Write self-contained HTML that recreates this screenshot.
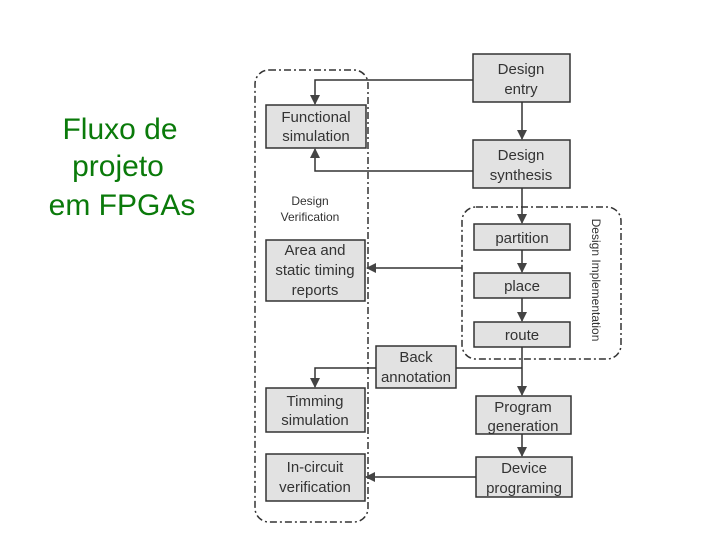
<!DOCTYPE html>
<html><head><meta charset="utf-8"><style>
html,body{margin:0;padding:0;background:#fff;}
svg{display:block;}
</style></head><body>
<svg width="720" height="540" viewBox="0 0 720 540" xmlns="http://www.w3.org/2000/svg" font-family="Liberation Sans, sans-serif">
<defs>
<marker id="a" markerWidth="10" markerHeight="10" refX="9" refY="5" orient="auto" markerUnits="userSpaceOnUse">
<path d="M0,0 L10,5 L0,10 z" fill="#444"/></marker>
</defs>
<rect width="720" height="540" fill="#fff"/>
<g fill="#0a7a0a" font-size="30" text-anchor="middle">
<text x="120" y="139">Fluxo de</text>
<text x="118" y="176">projeto</text>
<text x="122" y="215">em FPGAs</text>
</g>
<g fill="none" stroke="#333" stroke-width="1.5" stroke-dasharray="7,3,2,3">
<rect x="255" y="70" width="113" height="452" rx="14"/>
<rect x="462" y="207" width="159" height="152" rx="14"/>
</g>
<g fill="#e2e2e2" stroke="#333" stroke-width="1.5">
<rect x="473" y="54" width="97" height="48"/>
<rect x="473" y="140" width="97" height="48"/>
<rect x="266" y="105" width="100" height="43"/>
<rect x="266" y="240" width="99" height="61"/>
<rect x="474" y="224" width="96" height="26"/>
<rect x="474" y="273" width="96" height="25"/>
<rect x="474" y="322" width="96" height="25"/>
<rect x="376" y="346" width="80" height="42"/>
<rect x="476" y="396" width="95" height="38"/>
<rect x="476" y="457" width="96" height="40"/>
<rect x="266" y="388" width="99" height="44"/>
<rect x="266" y="454" width="99" height="47"/>
</g>
<g fill="none" stroke="#333" stroke-width="1.5">
<path d="M473,80 H315 V104" marker-end="url(#a)"/>
<path d="M473,171 H315 V149" marker-end="url(#a)"/>
<path d="M522,102 V139" marker-end="url(#a)"/>
<path d="M522,188 V223" marker-end="url(#a)"/>
<path d="M522,250 V272" marker-end="url(#a)"/>
<path d="M522,298 V321" marker-end="url(#a)"/>
<path d="M522,347 V395" marker-end="url(#a)"/>
<path d="M522,434 V456" marker-end="url(#a)"/>
<path d="M462,268 H367" marker-end="url(#a)"/>
<path d="M522,368 H456 M376,368 H315 V387" marker-end="url(#a)"/>
<path d="M476,477 H366" marker-end="url(#a)"/>
</g>
<g fill="#333" font-size="15" text-anchor="middle">
<text x="521" y="74">Design</text><text x="521" y="94">entry</text>
<text x="521" y="160">Design</text><text x="521" y="180">synthesis</text>
<text x="316" y="122">Functional</text><text x="316" y="141">simulation</text>
<text x="315" y="255">Area and</text><text x="315" y="275">static timing</text><text x="315" y="295">reports</text>
<text x="522" y="243">partition</text>
<text x="522" y="291">place</text>
<text x="522" y="340">route</text>
<text x="416" y="362">Back</text><text x="416" y="382">annotation</text>
<text x="523" y="412">Program</text><text x="523" y="431">generation</text>
<text x="524" y="473">Device</text><text x="524" y="493">programing</text>
<text x="315" y="406">Timming</text><text x="315" y="425">simulation</text>
<text x="315" y="472">In-circuit</text><text x="315" y="492">verification</text>
</g>
<g fill="#333" font-size="12" text-anchor="middle">
<text x="310" y="205">Design</text><text x="310" y="221">Verification</text>
<text x="0" y="0" transform="translate(592,280) rotate(90)">Design Implementation</text>
</g>
</svg>
</body></html>
